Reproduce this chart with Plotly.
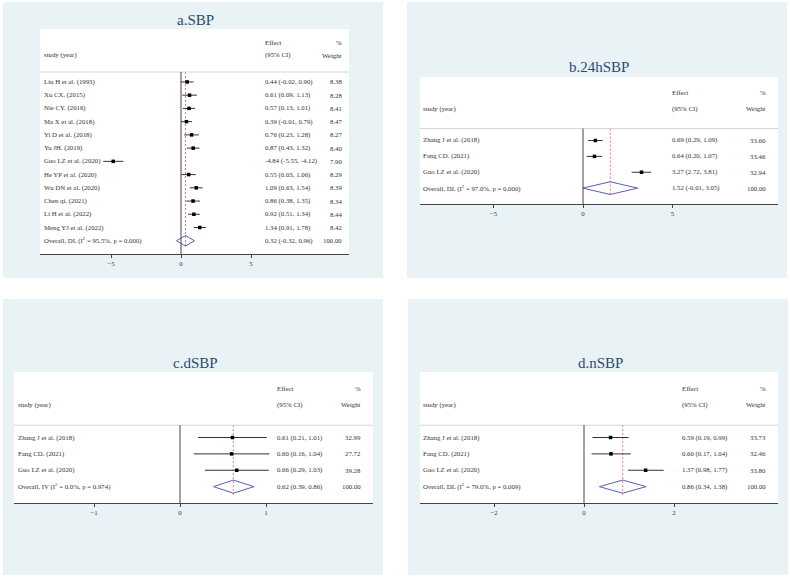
import plotly.graph_objects as go

W, H = 790, 578
FONT = "Liberation Serif"

# a.SBP
a_studies = ["Liu H et al. (1993)", "Xu CX. (2015)", "Nie CY. (2016)", "Ma X et al. (2018)",
             "Yi D et al. (2018)", "Yu JH. (2019)", "Guo LZ et al. (2020)", "He YP et al. (2020)",
             "Wu DN et al. (2020)", "Chen qi. (2021)", "Li H et al. (2022)", "Meng YJ et al. (2022)"]
a_effect = [0.44, 0.61, 0.57, 0.39, 0.76, 0.87, -4.84, 0.55, 1.09, 0.86, 0.92, 1.34]
a_lower = [-0.02, 0.09, 0.13, -0.01, 0.23, 0.43, -5.55, 0.03, 0.63, 0.38, 0.51, 0.91]
a_upper = [0.90, 1.13, 1.01, 0.79, 1.28, 1.32, -4.12, 1.06, 1.54, 1.35, 1.34, 1.78]
a_weight = [8.38, 8.28, 8.41, 8.47, 8.27, 8.40, 7.90, 8.29, 8.39, 8.34, 8.44, 8.42]
a_overall = [0.32, -0.32, 0.96]
a_overall_label = "Overall, DL (I<sup>2</sup> = 95.5%, p = 0.000)"
a_ticks = [-5, 0, 5]

# b.24hSBP
b_studies = ["Zhang J et al. (2018)", "Fang CD. (2021)", "Guo LZ et al. (2020)"]
b_effect = [0.69, 0.64, 3.27]
b_lower = [0.29, 0.20, 2.72]
b_upper = [1.09, 1.07, 3.81]
b_weight = [33.60, 33.46, 32.94]
b_overall = [1.52, -0.01, 3.05]
b_overall_label = "Overall, DL (I<sup>2</sup> = 97.0%, p = 0.000)"
b_ticks = [-5, 0, 5]

# c.dSBP
c_studies = ["Zhang J et al. (2018)", "Fang CD. (2021)", "Guo LZ et al. (2020)"]
c_effect = [0.61, 0.60, 0.66]
c_lower = [0.21, 0.16, 0.29]
c_upper = [1.01, 1.04, 1.03]
c_weight = [32.99, 27.72, 39.28]
c_overall = [0.62, 0.39, 0.86]
c_overall_label = "Overall, IV (I<sup>2</sup> = 0.0%, p = 0.974)"
c_ticks = [-1, 0, 1]

# d.nSBP
d_studies = ["Zhang J et al. (2018)", "Fang CD. (2021)", "Guo LZ et al. (2020)"]
d_effect = [0.59, 0.60, 1.37]
d_lower = [0.19, 0.17, 0.98]
d_upper = [0.99, 1.04, 1.77]
d_weight = [33.73, 32.46, 33.80]
d_overall = [0.86, 0.34, 1.38]
d_overall_label = "Overall, DL (I<sup>2</sup> = 79.0%, p = 0.009)"
d_ticks = [-2, 0, 2]

titles = ["a.SBP", "b.24hSBP", "c.dSBP", "d.nSBP"]
data = [
    (a_studies, a_effect, a_lower, a_upper, a_weight, a_overall, a_overall_label, a_ticks),
    (b_studies, b_effect, b_lower, b_upper, b_weight, b_overall, b_overall_label, b_ticks),
    (c_studies, c_effect, c_lower, c_upper, c_weight, c_overall, c_overall_label, c_ticks),
    (d_studies, d_effect, d_lower, d_upper, d_weight, d_overall, d_overall_label, d_ticks),
]

# pixel geometry: background box, white plot box, zero pixel, px per unit,
# title y, effect column x, weight column right edge
geom = [
    dict(bg=(3, 383, 2, 278), box=(40, 349, 29, 254), zero=181, ppu=14.0, ty=20, ex=263, wx=344),
    dict(bg=(407, 787, 2, 278), box=(420, 778, 77, 204), zero=583, ppu=17.9, ty=67, ex=670, wx=768),
    dict(bg=(3, 383, 299, 575), box=(14, 373, 372, 503), zero=180, ppu=86.0, ty=363, ex=275, wx=363),
    dict(bg=(408, 788, 299, 575), box=(420, 778, 372, 503), zero=584, ppu=45.0, ty=363, ex=680, wx=768),
]

BG = "#e9f3f6"
TXT = "#333333"
FS = 6.8
fig = go.Figure()
shapes, annotations = [], []
layout = {}

for k, ((studies, eff, lo, hi, wt, ov, ov_label, ticks), g, title) in enumerate(zip(data, geom, titles), start=1):
    sfx = "" if k == 1 else str(k)
    xa, ya = "x" + sfx, "y" + sfx
    n = len(studies)
    x0, x1, y0, y1 = g["box"]
    xr = [(x0 - g["zero"]) / g["ppu"], (x1 - g["zero"]) / g["ppu"]]

    layout["xaxis" + sfx] = dict(
        domain=[x0 / W, x1 / W], range=xr, anchor=ya, tickvals=ticks,
        showgrid=False, zeroline=False, showline=True, linecolor="#444", linewidth=1,
        ticks="outside", ticklen=3, tickcolor="#444",
        tickfont=dict(family=FONT, size=FS, color=TXT),
    )
    layout["yaxis" + sfx] = dict(
        domain=[1 - y1 / H, 1 - y0 / H], range=[n + 1, -4], anchor=xa, visible=False,
    )

    bx0, bx1, by0, by1 = g["bg"]
    shapes.append(dict(type="rect", xref="paper", yref="paper", x0=bx0 / W, x1=bx1 / W,
                       y0=1 - by1 / H, y1=1 - by0 / H, fillcolor=BG, line_width=0, layer="below"))
    shapes.append(dict(type="rect", xref=xa + " domain", yref=ya + " domain", x0=0, x1=1, y0=0, y1=1,
                       fillcolor="white", line_width=0, layer="below"))
    shapes.append(dict(type="line", xref=xa + " domain", yref=ya, x0=0, x1=1, y0=-0.75, y1=-0.75,
                       line=dict(color="#d4d4d4", width=1)))
    shapes.append(dict(type="line", xref=xa, yref=ya, x0=0, x1=0, y0=-0.75, y1=n + 1,
                       line=dict(color="#444", width=1)))

    # pooled estimate reference line
    fig.add_trace(go.Scatter(x=[ov[0], ov[0]], y=[-0.75, n + 0.5], mode="lines", xaxis=xa, yaxis=ya,
                             line=dict(color="#d9534f", width=0.8, dash="2px,2px"), hoverinfo="skip"))
    # study estimates
    fig.add_trace(go.Scatter(
        x=eff, y=list(range(n)), mode="markers", xaxis=xa, yaxis=ya,
        marker=dict(symbol="square", size=3.5, color="black"),
        error_x=dict(type="data", symmetric=False,
                     array=[h - e for h, e in zip(hi, eff)],
                     arrayminus=[e - l for e, l in zip(eff, lo)],
                     width=0, thickness=1, color="#333"),
    ))
    # overall diamond
    fig.add_trace(go.Scatter(
        x=[ov[1], ov[0], ov[2], ov[0], ov[1]], y=[n, n - 0.4, n, n + 0.4, n],
        mode="lines", xaxis=xa, yaxis=ya, line=dict(color="#5b5fae", width=1), hoverinfo="skip",
    ))

    w = x1 - x0
    sx = 1.5 / w
    ex = (g["ex"] - x0) / w
    wx = (g["wx"] - x0) / w

    def note(text, xd, y, anchor="left"):
        annotations.append(dict(text=text, xref=xa + " domain", yref=ya, x=xd, y=y,
                                xanchor=anchor, yanchor="middle", showarrow=False,
                                font=dict(family=FONT, size=FS, color=TXT)))

    note("study (year)", sx, -2)
    note("Effect", ex, -3)
    note("(95% CI)", ex, -2)
    note("%", wx, -3, "right")
    note("Weight", wx, -2, "right")
    labels = studies + [ov_label]
    effs = eff + [ov[0]]
    los = lo + [ov[1]]
    his = hi + [ov[2]]
    wts = wt + [100.0]
    for i in range(n + 1):
        note(labels[i], sx, i)
        note(f"{effs[i]:.2f} ({los[i]:.2f}, {his[i]:.2f})", ex, i)
        note(f"{wts[i]:.2f}", wx, i, "right")

    annotations.append(dict(text=title, xref="paper", yref="paper", x=((bx0 + bx1) / 2 + 2) / W,
                            y=1 - g["ty"] / H, xanchor="center", yanchor="middle", showarrow=False,
                            font=dict(family=FONT, size=15, color="#2e4a6e")))

fig.update_layout(
    width=W, height=H, margin=dict(l=0, r=0, t=0, b=0),
    paper_bgcolor="white", plot_bgcolor="rgba(0,0,0,0)",
    showlegend=False, shapes=shapes, annotations=annotations, **layout,
)

# the page's default body margin would shift the figure
fig.write_html("out.html", config={"displayModeBar": False},
               post_script="document.body.style.margin='0px';")
